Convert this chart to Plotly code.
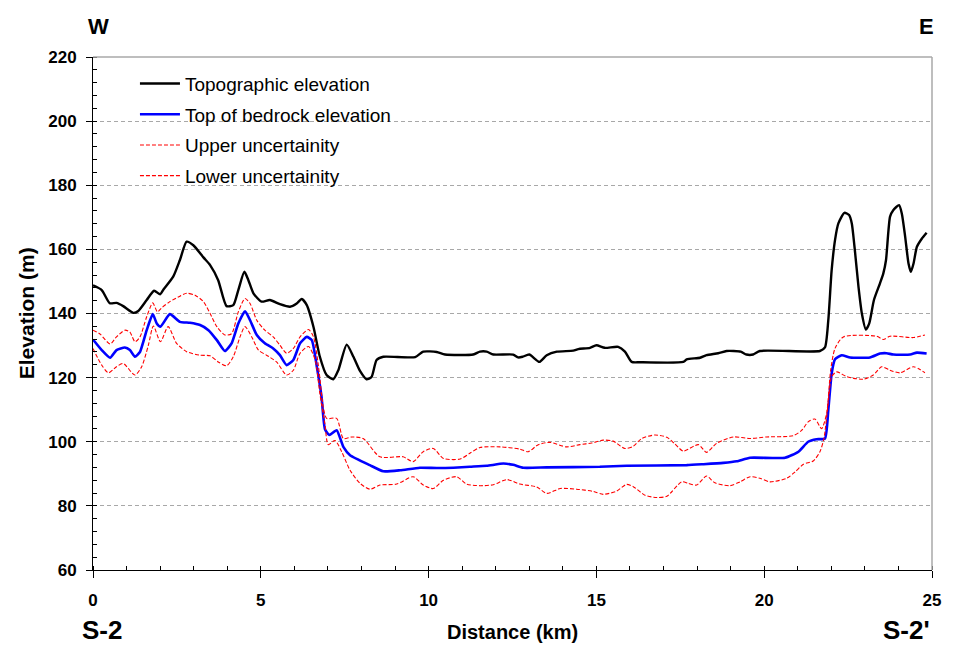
import plotly.graph_objects as go

# Cross-section S-2 to S-2' (west to east)
topo_km = [0.0, 0.26, 0.5, 0.7, 0.9, 1.2, 1.35, 1.6, 1.82, 2.0, 2.1, 2.39, 2.59, 2.79, 2.99,
           3.29, 3.49, 3.73, 3.98, 4.18, 4.33, 4.51, 4.63, 4.78, 5.02, 5.27, 5.57, 5.87, 6.07,
           6.22, 6.37, 6.57, 6.76, 6.96, 7.16, 7.31, 7.56, 7.76, 7.96, 8.15, 8.3, 8.45, 8.65,
           9.6, 9.84, 10.24, 10.49, 11.33, 11.53, 11.73, 11.93, 12.52, 12.67, 12.8, 13.0, 13.3,
           13.52, 13.82, 14.31, 14.46, 14.81, 15.0, 15.25, 15.65, 15.85, 16.05, 16.3, 17.59,
           17.69, 18.09, 18.28, 18.63, 18.88, 19.3, 19.47, 19.67, 19.87, 21.66, 21.81, 21.91,
           22.01, 22.11, 22.21, 22.39, 22.53, 22.61, 22.71, 22.81, 22.91, 23.03, 23.13, 23.27,
           23.45, 23.55, 23.63, 23.75, 23.85, 24.02, 24.1, 24.2, 24.3, 24.37, 24.45, 24.55,
           24.7, 24.84]
topo_m = [148.8, 147.3, 143.2, 143.3, 142.3, 140.2, 140.8, 144.2, 147.1, 146.0, 147.5, 151.5,
          156.7, 162.4, 161.3, 157.5, 155.1, 150.4, 142.3, 142.6, 147.3, 153.0, 150.4, 146.3,
          143.7, 144.2, 142.9, 142.1, 143.1, 144.5, 142.6, 135.8, 126.5, 120.8, 119.5, 122.3,
          130.3, 126.5, 122.0, 119.5, 120.2, 125.5, 126.5, 126.4, 128.1, 128.0, 127.2, 127.2,
          128.1, 128.1, 127.2, 127.2, 126.3, 126.5, 127.2, 124.9, 127.0, 128.1, 128.4, 128.9,
          129.3, 130.1, 129.3, 129.6, 128.1, 124.9, 124.8, 124.9, 125.7, 126.2, 127.0, 127.6,
          128.3, 128.1, 127.2, 127.2, 128.3, 128.3, 129.4, 137.9, 153.5, 162.9, 168.1, 171.4,
          170.7, 168.1, 158.8, 148.3, 140.0, 135.0, 136.9, 144.2, 149.4, 152.5, 156.7, 170.2,
          172.3, 173.8, 171.2, 164.0, 155.6, 153.0, 155.6, 160.8, 163.4, 165.2]

bedrock_km = [0.0, 0.26, 0.51, 0.7, 0.95, 1.1, 1.25, 1.4, 1.6, 1.78, 1.9, 2.01, 2.29, 2.59,
              2.89, 3.19, 3.44, 3.69, 3.93, 4.13, 4.33, 4.53, 4.68, 4.88, 5.12, 5.37, 5.57,
              5.77, 5.97, 6.17, 6.37, 6.52, 6.67, 6.81, 6.91, 7.04, 7.26, 7.46, 7.66, 8.25,
              8.65, 9.15, 9.74, 10.24, 10.74, 11.23, 11.73, 12.23, 12.52, 12.82, 13.52, 15.1,
              15.9, 17.69, 18.19, 18.78, 19.18, 19.58, 20.62, 21.02, 21.31, 21.56, 21.81,
              21.91, 22.01, 22.11, 22.31, 22.56, 23.15, 23.45, 23.65, 23.85, 24.35, 24.55, 24.84]
bedrock_m = [131.9, 128.6, 126.2, 128.6, 129.4, 128.6, 126.5, 128.0, 134.8, 139.8, 136.9,
             135.9, 139.8, 137.4, 137.1, 136.4, 134.8, 131.7, 128.3, 130.7, 136.9, 140.7,
             137.9, 133.3, 130.7, 129.1, 127.0, 123.9, 125.5, 130.7, 132.7, 131.7, 123.4,
             114.0, 104.0, 102.1, 103.6, 98.4, 95.8, 92.7, 90.8, 91.1, 91.9, 91.8, 91.9, 92.2,
             92.5, 93.2, 92.8, 91.9, 92.0, 92.2, 92.5, 92.7, 93.0, 93.4, 93.9, 95.0, 95.0,
             96.9, 100.0, 100.8, 101.0, 109.9, 121.3, 125.7, 127.0, 126.3, 126.3, 127.5,
             127.6, 127.2, 127.2, 127.8, 127.5]

upper_km = [0.0, 0.2, 0.51, 0.7, 0.95, 1.1, 1.25, 1.4, 1.6, 1.78, 1.92, 2.04, 2.29, 2.59,
            2.79, 3.04, 3.29, 3.49, 3.69, 3.93, 4.13, 4.33, 4.53, 4.68, 4.88, 5.12, 5.37,
            5.57, 5.77, 5.97, 6.17, 6.42, 6.57, 6.72, 6.86, 6.96, 7.26, 7.46, 7.71, 8.05,
            8.55, 9.24, 9.54, 9.84, 10.14, 10.44, 10.94, 11.23, 11.53, 12.13, 12.72, 12.97,
            13.27, 13.62, 14.11, 14.51, 14.86, 15.2, 15.5, 15.85, 16.1, 16.35, 16.74, 17.1,
            17.34, 17.59, 18.04, 18.28, 18.58, 19.08, 19.58, 20.07, 20.87, 21.12, 21.31,
            21.51, 21.71, 21.86, 21.98, 22.11, 22.36, 23.35, 23.55, 23.75, 24.45, 24.79]
upper_m = [134.8, 133.7, 130.5, 132.7, 134.8, 134.2, 131.2, 132.7, 139.0, 143.3, 140.5,
           141.7, 143.7, 145.4, 146.3, 145.7, 143.7, 140.0, 135.9, 133.3, 133.7, 140.5,
           144.7, 143.1, 137.9, 134.8, 132.7, 130.1, 127.6, 129.1, 132.7, 135.0, 132.7,
           123.4, 110.9, 107.3, 107.3, 101.0, 101.5, 101.0, 95.3, 95.3, 93.8, 96.9, 97.9,
           94.8, 94.6, 96.4, 98.2, 98.4, 97.7, 96.9, 99.1, 99.8, 98.4, 99.1, 99.6, 100.5,
           100.2, 97.9, 98.6, 101.0, 102.1, 101.4, 99.3, 97.1, 99.1, 96.7, 99.5, 101.5,
           101.0, 101.5, 101.9, 103.6, 106.2, 107.1, 104.1, 108.8, 122.3, 129.1, 132.7,
           132.9, 131.9, 132.9, 132.5, 133.3]

lower_km = [0.0, 0.26, 0.46, 0.7, 0.9, 1.25, 1.45, 1.65, 1.8, 2.01, 2.24, 2.49, 2.79, 3.19,
            3.49, 3.73, 3.98, 4.18, 4.38, 4.53, 4.73, 4.93, 5.17, 5.47, 5.77, 5.97, 6.17,
            6.42, 6.62, 6.76, 6.91, 7.01, 7.21, 7.41, 7.66, 7.96, 8.25, 8.55, 9.05, 9.54,
            9.84, 10.14, 10.44, 10.84, 11.13, 11.53, 11.93, 12.33, 12.72, 13.22, 13.52,
            13.92, 14.41, 14.91, 15.2, 15.6, 15.9, 16.1, 16.45, 16.8, 17.1, 17.54, 17.74,
            17.99, 18.28, 18.53, 18.98, 19.28, 19.58, 19.87, 20.17, 20.67, 20.92, 21.17,
            21.46, 21.66, 21.78, 21.91, 22.01, 22.16, 22.46, 22.95, 23.25, 23.5, 23.75,
            24.05, 24.45, 24.79]
lower_m = [129.1, 123.9, 121.5, 123.4, 124.4, 120.8, 123.4, 130.1, 136.1, 131.2, 135.9,
           130.7, 128.1, 127.0, 126.8, 124.9, 123.7, 126.5, 132.7, 135.9, 132.7, 128.6,
           127.0, 124.9, 120.8, 122.3, 127.6, 129.7, 125.5, 115.0, 105.5, 99.1, 100.4, 96.9,
           91.1, 87.0, 85.2, 86.5, 86.8, 89.1, 86.5, 85.4, 88.0, 89.1, 86.8, 86.3, 86.6,
           88.2, 86.8, 85.9, 83.9, 85.4, 85.2, 84.5, 83.6, 84.6, 86.7, 86.0, 83.3, 82.6,
           83.0, 87.5, 87.0, 86.5, 89.3, 87.2, 86.3, 87.5, 89.1, 88.6, 87.5, 88.6, 90.6,
           93.0, 94.0, 96.9, 101.0, 112.5, 120.3, 121.8, 120.3, 119.5, 120.8, 123.4, 122.3,
           121.5, 123.4, 121.5]

FONT = "Liberation Sans, Arial, sans-serif"

fig = go.Figure()
fig.add_trace(go.Scatter(x=topo_km, y=topo_m, mode="lines", name="Topographic elevation",
                         legendgroup="a",
                         line=dict(color="#000000", width=2.4, shape="spline", smoothing=0.6)))
fig.add_trace(go.Scatter(x=bedrock_km, y=bedrock_m, mode="lines", name="Top of bedrock elevation",
                         legendgroup="b",
                         line=dict(color="#0000ff", width=2.6, shape="spline", smoothing=0.5)))
fig.add_trace(go.Scatter(x=upper_km, y=upper_m, mode="lines", name="Upper uncertainity",
                         legendgroup="c",
                         line=dict(color="#ff0000", width=1.1, dash="4px,2px",
                                   shape="spline", smoothing=0.7)))
fig.add_trace(go.Scatter(x=lower_km, y=lower_m, mode="lines", name="Lower uncertainity",
                         legendgroup="d",
                         line=dict(color="#ff0000", width=1.1, dash="4px,2px",
                                   shape="spline", smoothing=0.7)))

fig.update_layout(
    width=964, height=646,
    margin=dict(l=93, r=32, t=57, b=76),
    paper_bgcolor="white", plot_bgcolor="white",
    font=dict(family=FONT, color="black"),
    showlegend=True,
    legend=dict(x=0.05, y=0.985, xanchor="left", yanchor="top",
                bgcolor="rgba(0,0,0,0)", traceorder="grouped", tracegroupgap=3,
                font=dict(family=FONT, size=19, color="black"), itemwidth=40),
    xaxis=dict(range=[0, 25], tickmode="linear", tick0=0, dtick=5,
               showgrid=False, zeroline=False,
               showline=True, linecolor="black", linewidth=1,
               ticks="outside", ticklen=7, tickcolor="black",
               minor=dict(dtick=1, ticks="inside", ticklen=4, tickcolor="black", showgrid=False),
               tickfont=dict(family=FONT, size=17, weight="bold"),
               ticklabelstandoff=8),
    yaxis=dict(range=[60, 220], tickmode="linear", tick0=60, dtick=20,
               showgrid=True, gridcolor="#a8a8a8", gridwidth=1, griddash="4px,3px",
               zeroline=False,
               showline=True, linecolor="black", linewidth=1,
               ticks="outside", ticklen=6, tickcolor="black",
               minor=dict(dtick=4, ticks="inside", ticklen=4, tickcolor="black", showgrid=False),
               tickfont=dict(family=FONT, size=17, weight="bold"),
               ticklabelstandoff=6),
    shapes=[
        # legend panel, hides grid lines behind the key
        dict(type="rect", xref="paper", yref="paper", x0=0.003, x1=0.396, y0=0.74, y1=0.99,
             fillcolor="white", line=dict(width=0), layer="between"),
        # grey frame on top and right
        dict(type="line", xref="paper", yref="paper", x0=0, x1=1, y0=1, y1=1,
             line=dict(color="#a8a8a8", width=1.5)),
        dict(type="line", xref="paper", yref="paper", x0=1, x1=1, y0=0, y1=1,
             line=dict(color="#a8a8a8", width=1.5)),
    ],
    annotations=[
        dict(text="W", xref="paper", yref="paper", x=0.007, y=1.06, xanchor="center",
             yanchor="middle", showarrow=False, font=dict(family=FONT, size=22, weight="bold")),
        dict(text="E", xref="paper", yref="paper", x=0.993, y=1.06, xanchor="center",
             yanchor="middle", showarrow=False, font=dict(family=FONT, size=22, weight="bold")),
        dict(text="S-2", xref="paper", yref="paper", x=0.011, y=-0.117, xanchor="center",
             yanchor="middle", showarrow=False, font=dict(family=FONT, size=26, weight="bold")),
        dict(text="S-2'", xref="paper", yref="paper", x=0.970, y=-0.117, xanchor="center",
             yanchor="middle", showarrow=False, font=dict(family=FONT, size=26, weight="bold")),
        dict(text="Distance (km)", xref="paper", yref="paper", x=0.5, y=-0.121, xanchor="center",
             yanchor="middle", showarrow=False, font=dict(family=FONT, size=20, weight="bold")),
        dict(text="Elevation (m)", xref="paper", yref="paper", x=-0.079, y=0.5, xanchor="center",
             yanchor="middle", textangle=-90, showarrow=False,
             font=dict(family=FONT, size=21, weight="bold")),
    ],
)

fig.write_html("out.html")
